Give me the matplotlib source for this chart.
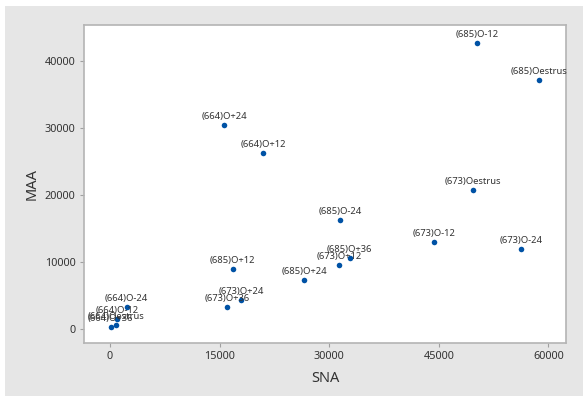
import matplotlib
matplotlib.use("Agg")
import matplotlib.pyplot as plt
from matplotlib.patches import Rectangle

labels = ["(664)O-24", "(664)O-12", "(664)Oestrus", "(664)O+12", "(664)O+24", "(664)O+36",
          "(673)O-24", "(673)O-12", "(673)Oestrus", "(673)O+12", "(673)O+24", "(673)O+36",
          "(685)O-24", "(685)O-12", "(685)Oestrus", "(685)O+12", "(685)O+24", "(685)O+36"]
sna = [2280, 1000, 780, 20940, 15600, 100,
       56250, 44340, 49680, 31380, 17970, 16010,
       31480, 50230, 58710, 16790, 26590, 32800]
maa = [3200, 1450, 510, 26260, 30450, 210,
       11910, 12960, 20730, 9570, 4290, 3240,
       16250, 42700, 37170, 8920, 7240, 10610]
xticks = [0, 15000, 30000, 45000, 60000]
yticks = [0, 10000, 20000, 30000, 40000]

plt.rcParams['font.family'] = ['Noto Sans', 'DejaVu Sans']
fig = plt.figure(figsize=(5.88, 3.99), dpi=100, facecolor='white')
fig.patches.append(Rectangle((5/588, 3/399), 578/588, 390/399, transform=fig.transFigure,
                             facecolor='#e6e6e6', edgecolor='none', zorder=-10))
ax = fig.add_axes([84/588, 1 - 343/399, (566-84)/588, (343-25)/399])
ax.set_facecolor('white')
ax.scatter(sna, maa, s=16, color='#0052a5', zorder=3, linewidths=0)
for lab, x, y in zip(labels, sna, maa):
    ax.annotate(lab, (x, y), xytext=(0, 3), textcoords='offset points',
                ha='center', va='bottom', fontsize=6.8, color='#333333', zorder=4)
ax.set_xlim(-3560, 62400)
ax.set_ylim(-2140, 45400)
ax.set_xticks(xticks)
ax.set_yticks(yticks)
ax.tick_params(axis='both', length=3, color='#a0a0a0', labelsize=7.8, labelcolor='#333333', pad=3)
for s in ax.spines.values():
    s.set_color('#b4b4b4')
    s.set_linewidth(1.2)
ax.set_xlabel('SNA', fontsize=10.5, color='#333333', labelpad=6)
ax.set_ylabel('MAA', fontsize=10.5, color='#333333', labelpad=4)
fig.savefig('out.png', dpi=100, facecolor=fig.get_facecolor())
